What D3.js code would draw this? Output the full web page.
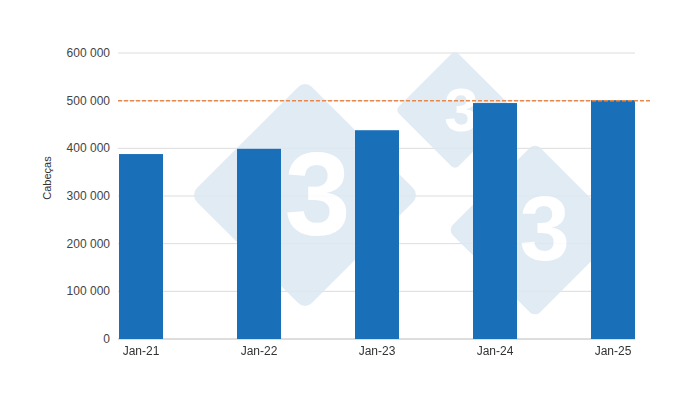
<!DOCTYPE html>
<html>
<head>
<meta charset="UTF-8">
<script src="https://d3js.org/d3.v7.min.js"></script>
<style>
  body { margin: 0; background: #fff; }
  text { font-family: "Liberation Sans", Arial, sans-serif; }
</style>
</head>
<body>
<svg id="chart" width="700" height="400"></svg>
<script>
const categories = ["Jan-21", "Jan-22", "Jan-23", "Jan-24", "Jan-25"];
const heads = [388000, 399000, 438000, 495000, 501000];
const referenceValue = 500000;
const yTicks = [0, 100000, 200000, 300000, 400000, 500000, 600000];

const svg = d3.select("#chart");
const plotLeft = 118, plotRight = 635, plotTop = 53, plotBottom = 339;

const y = d3.scaleLinear().domain([0, 600000]).range([plotBottom, plotTop]);
const x = d3.scalePoint().domain(categories).range([141, 613]);
const fmt = v => d3.format(",")(v).replace(/,/g, " ");

// gridlines
svg.append("g").selectAll("line").data(yTicks).join("line")
  .attr("x1", plotLeft).attr("x2", plotRight)
  .attr("y1", d => y(d)).attr("y2", d => y(d))
  .attr("stroke", d => d === 0 ? "#bbb" : "#ddd").attr("stroke-width", 1);

svg.append("g").selectAll("text").data(yTicks).join("text")
  .attr("x", 110).attr("y", d => y(d) + 4)
  .attr("text-anchor", "end").attr("font-size", 12).attr("fill", "#444")
  .text(fmt);

// watermark
const marks = [{cx: 305, cy: 195, r: 125}, {cx: 455, cy: 110, r: 65}, {cx: 535, cy: 230, r: 95}];
const wm = svg.append("g").attr("opacity", 0.85);
marks.forEach(m => {
  const s = m.r * Math.SQRT2 * 0.92;
  wm.append("rect")
    .attr("x", -s / 2).attr("y", -s / 2).attr("width", s).attr("height", s)
    .attr("rx", s * 0.06)
    .attr("transform", `translate(${m.cx},${m.cy}) rotate(45)`)
    .attr("fill", "#dce8f3");
  wm.append("text").attr("x", m.cx + m.r * 0.1).attr("y", m.cy + m.r * 0.32)
    .attr("text-anchor", "middle").attr("font-size", m.r * 0.95)
    .attr("font-weight", "bold").attr("fill", "#fff").text("3");
});

// bars
svg.append("g").selectAll("rect").data(heads).join("rect")
  .attr("x", (d, i) => x(categories[i]) - 22).attr("width", 44)
  .attr("y", d => y(d)).attr("height", d => plotBottom - y(d))
  .attr("fill", "#1a70b8");

// reference line
svg.append("line")
  .attr("x1", plotLeft).attr("x2", plotRight + 15)
  .attr("y1", y(referenceValue)).attr("y2", y(referenceValue))
  .attr("stroke", "#e8884a").attr("stroke-width", 1.5).attr("stroke-dasharray", "4 2");

// x labels
svg.append("g").selectAll("text").data(categories).join("text")
  .attr("x", d => x(d)).attr("y", 355)
  .attr("text-anchor", "middle").attr("font-size", 12).attr("fill", "#333")
  .text(d => d);

svg.append("text")
  .attr("transform", "translate(51,178) rotate(-90)")
  .attr("text-anchor", "middle").attr("font-size", 11).attr("fill", "#333")
  .text("Cabeças");
</script>
</body>
</html>
